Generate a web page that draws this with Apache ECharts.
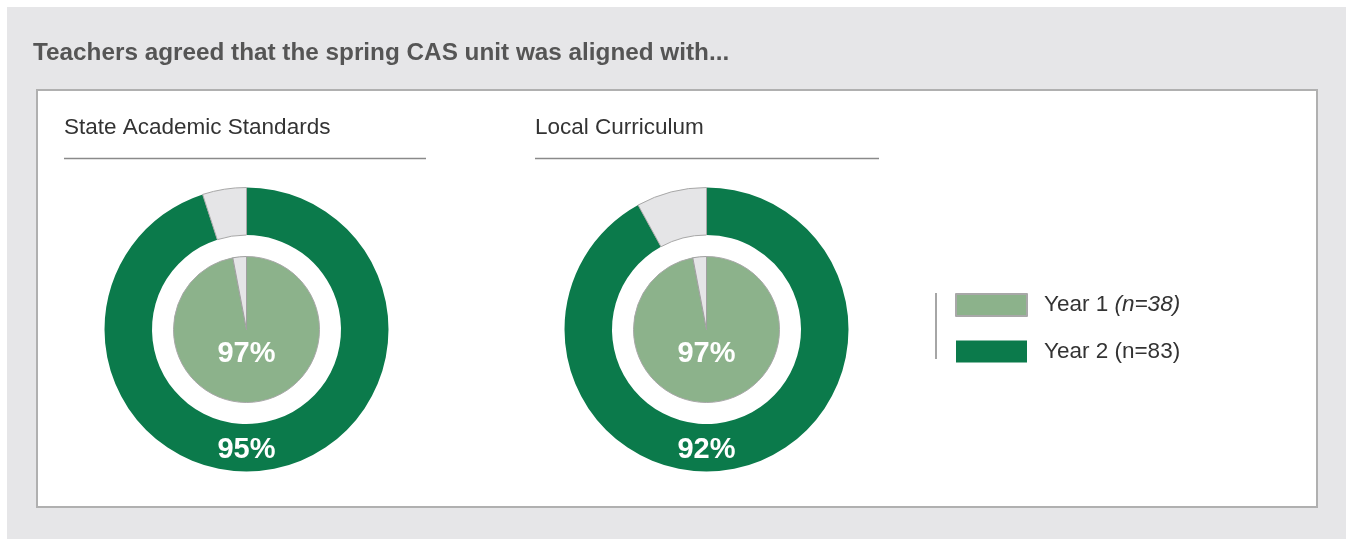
<!DOCTYPE html>
<html>
<head>
<meta charset="utf-8">
<script src="https://cdn.jsdelivr.net/npm/echarts@6/dist/echarts.min.js"></script>
<style>
html,body{margin:0;padding:0;background:#fff;}
#chart{width:1346px;height:539px;}
</style>
</head>
<body>
<div id="chart"></div>
<script>
// ---- data ----
const chartTitle = 'Teachers agreed that the spring CAS unit was aligned with...';
const panelTitles = ['State Academic Standards', 'Local Curriculum'];
const year1Values = [97, 97];   // inner pie (Year 1)
const year2Values = [95, 92];   // outer ring (Year 2)
const legendNames = ['Year 1', 'Year 2'];
const legendN = ['(n=38)', '(n=83)'];
const legendItalic = [true, false];

// ---- styles ----
const DARK = '#0b7a4b';
const LIGHT = '#8cb28b';
const REST = '#e5e5e7';
const FONT = '"Liberation Sans",Arial,sans-serif';
const centersX = [246.5, 706.5];
const centerY = 329.5;
const headerX = [64, 535];
const lineEnd = [426, 879];

const chart = echarts.init(document.getElementById('chart'), null, {renderer: 'canvas'});

const labelStyle = {
  show: true, position: 'center', formatter: '{c}%',
  color: '#fff', fontSize: 29, fontWeight: 'bold', fontFamily: FONT
};

const series = [];
panelTitles.forEach((t, i) => {
  series.push({
    type: 'pie',
    name: 'Year 2 ' + t,
    center: [centersX[i], centerY],
    radius: [94.5, 142],
    startAngle: 90,
    clockwise: true,
    silent: true,
    animation: false,
    labelLine: {show: false},
    label: labelStyle,
    labelLayout: {dy: 120},
    data: [
      {name: legendNames[1], value: year2Values[i], itemStyle: {color: DARK}},
      {name: 'rest', value: 100 - year2Values[i], itemStyle: {color: REST, borderColor: '#a8a8a8', borderWidth: 1}, label: {show: false}}
    ]
  });
  series.push({
    type: 'pie',
    name: 'Year 1 ' + t,
    center: [centersX[i], centerY],
    radius: [0, 73],
    startAngle: 90,
    clockwise: true,
    silent: true,
    animation: false,
    labelLine: {show: false},
    label: labelStyle,
    labelLayout: {dy: 24},
    data: [
      {name: legendNames[0], value: year1Values[i], itemStyle: {color: LIGHT, borderColor: '#a8a8a8', borderWidth: 1}},
      {name: 'rest', value: 100 - year1Values[i], itemStyle: {color: REST, borderColor: '#a0a0a0', borderWidth: 1}, label: {show: false}}
    ]
  });
});

const graphics = [
  {type: 'rect', shape: {x: 7, y: 7, width: 1339, height: 532}, style: {fill: '#e6e6e8'}, z: -10},
  {type: 'rect', shape: {x: 37, y: 90, width: 1280, height: 417}, style: {fill: '#fff', stroke: '#b0b0b0', lineWidth: 2}, z: -9},
  {type: 'text', x: 33, y: 53, style: {text: chartTitle, fill: '#555', font: 'bold 24.3px ' + FONT, textVerticalAlign: 'middle'}},
  {type: 'line', shape: {x1: 936, y1: 293, x2: 936, y2: 359}, style: {stroke: '#888', lineWidth: 1.5}}
];
panelTitles.forEach((t, i) => {
  graphics.push({type: 'text', x: headerX[i], y: 128, style: {text: t, fill: '#333', font: '22.5px ' + FONT, textVerticalAlign: 'middle'}});
  graphics.push({type: 'line', shape: {x1: headerX[i], y1: 158.5, x2: lineEnd[i], y2: 158.5}, style: {stroke: '#8a8a8a', lineWidth: 1.5}});
});

chart.setOption({
  animation: false,
  graphic: graphics,
  legend: {
    orient: 'vertical',
    left: 955, top: 293,
    padding: 0,
    itemWidth: 71, itemHeight: 22, itemGap: 23,
    icon: 'rect',
    selectedMode: false,
    data: legendNames,
    formatter: function (name) {
      const k = legendNames.indexOf(name);
      return name + ' ' + (legendItalic[k] ? '{i|' + legendN[k] + '}' : legendN[k]);
    },
    textStyle: {
      color: '#333', fontSize: 22.5, fontFamily: FONT, padding: [0, 0, 0, 12],
      rich: {i: {fontStyle: 'italic', fontSize: 22.5, fontFamily: FONT, color: '#333'}}
    }
  },
  series: series
});
</script>
</body>
</html>
